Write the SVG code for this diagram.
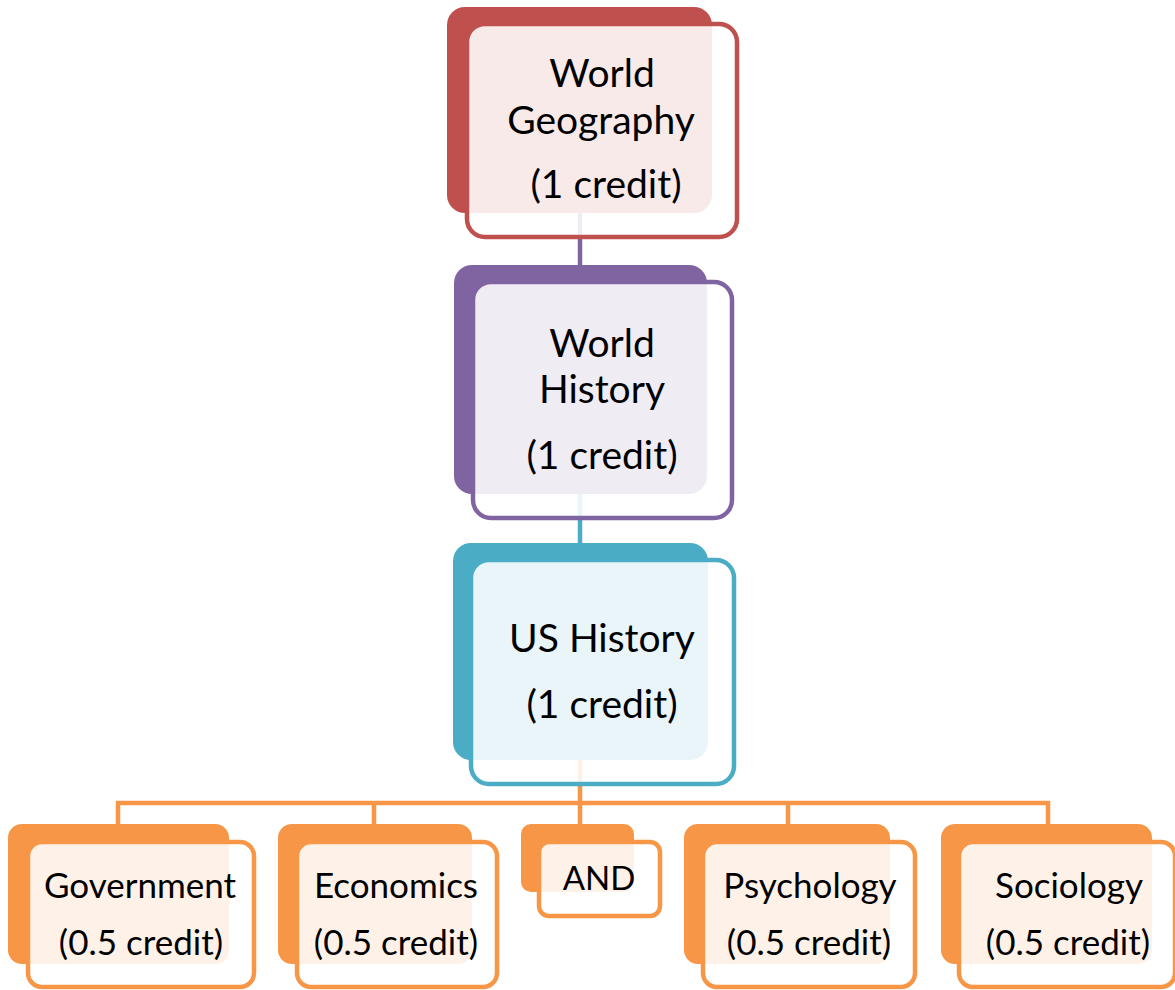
<svg xmlns="http://www.w3.org/2000/svg" width="1175" height="990" viewBox="0 0 1175 990">
<style>
.t{font-family:Lato,"Liberation Sans",sans-serif;fill:#000;text-anchor:middle}
.big{font-size:39px}
.sm{font-size:35px}
.and{font-size:33px}
.front{fill:#fff;fill-opacity:0.88;stroke-width:4.5}
.red .back{fill:#C0504D}.red .front{stroke:#C0504D}
.pur .back{fill:#8064A2}.pur .front{stroke:#8064A2}
.cya .back{fill:#4BACC6}.cya .front{stroke:#4BACC6}
.ora .back{fill:#F79646}.ora .front{stroke:#F79646}
.c{fill:none;stroke-width:4.5}
</style>
<rect width="1175" height="990" fill="#fff"/>
<g id="connectors">
<line class="c" x1="580" y1="212" x2="580" y2="266" stroke="#8064A2"/>
<line class="c" x1="580" y1="492" x2="580" y2="545" stroke="#4BACC6"/>
<path class="c" stroke="#F79646" d="M580 758 V826 M118 826 V803 H1048 V826 M374 803 V826 M788 803 V826"/>
</g>
<g id="n1" class="red">
<rect class="back" x="447" y="7" width="265" height="206" rx="18"/>
<rect class="front" x="467" y="24" width="270" height="213" rx="18"/>
<text class="t big" x="602" y="87">World</text>
<text class="t big" x="601" y="134">Geography</text>
<text class="t big" x="606" y="198">(1 credit)</text>
</g>
<g id="n2" class="pur">
<rect class="back" x="454" y="265" width="253" height="229" rx="18"/>
<rect class="front" x="473" y="282" width="259" height="236" rx="18"/>
<text class="t big" x="602" y="357">World</text>
<text class="t big" x="602" y="403">History</text>
<text class="t big" x="602" y="469">(1 credit)</text>
</g>
<g id="n3" class="cya">
<rect class="back" x="453" y="543" width="255" height="217" rx="18"/>
<rect class="front" x="471" y="560" width="263" height="224" rx="18"/>
<text class="t big" x="602" y="652">US History</text>
<text class="t big" x="602" y="718">(1 credit)</text>
</g>
<g id="n4" class="ora">
<rect class="back" x="8" y="824" width="221" height="140" rx="14"/>
<rect class="front" x="28" y="842" width="226" height="145" rx="14"/>
<text class="t sm" x="140" y="898">Government</text>
<text class="t sm" x="141" y="955">(0.5 credit)</text>
</g>
<g id="n5" class="ora">
<rect class="back" x="278" y="824" width="194" height="140" rx="14"/>
<rect class="front" x="297" y="842" width="200" height="145" rx="14"/>
<text class="t sm" x="396" y="898">Economics</text>
<text class="t sm" x="396" y="955">(0.5 credit)</text>
</g>
<g id="n6" class="ora">
<rect class="back" x="521" y="824" width="113" height="68" rx="10"/>
<rect class="front" x="539" y="842" width="121" height="74" rx="10"/>
<text class="t and" x="599" y="890">AND</text>
</g>
<g id="n7" class="ora">
<rect class="back" x="684" y="824" width="206" height="140" rx="14"/>
<rect class="front" x="703" y="842" width="212" height="145" rx="14"/>
<text class="t sm" x="810" y="898">Psychology</text>
<text class="t sm" x="809" y="955">(0.5 credit)</text>
</g>
<g id="n8" class="ora">
<rect class="back" x="941" y="824" width="211" height="140" rx="14"/>
<rect class="front" x="959" y="842" width="216" height="145" rx="14"/>
<text class="t sm" x="1069" y="898">Sociology</text>
<text class="t sm" x="1068" y="955">(0.5 credit)</text>
</g>
</svg>
